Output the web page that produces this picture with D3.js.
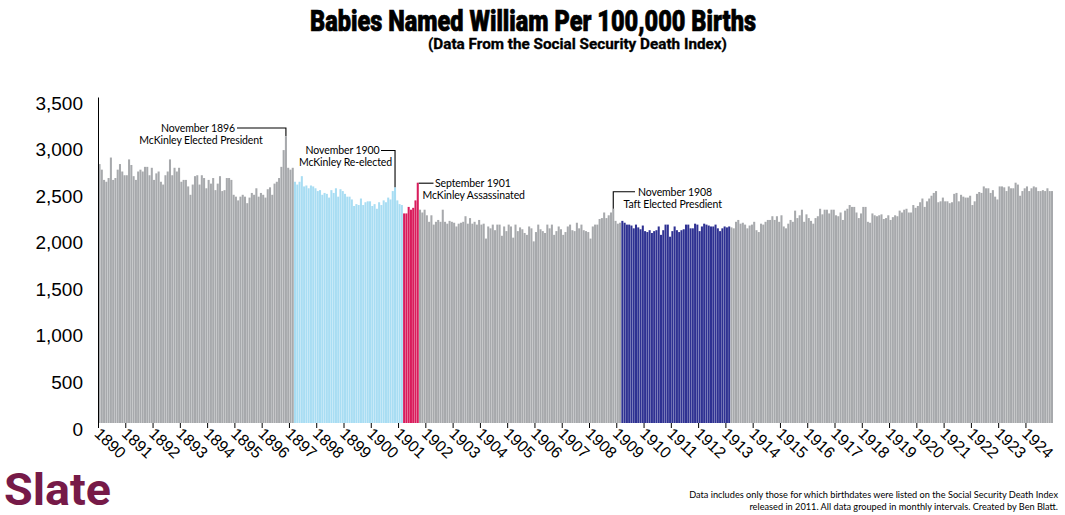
<!DOCTYPE html>
<html>
<head>
<meta charset="utf-8">
<script src="https://cdn.jsdelivr.net/npm/d3@7"></script>
<style>
body { margin: 0; background: #fff; }
svg { display: block; }
.axis text { font-family: "Liberation Sans", Arial, sans-serif; fill: #000; }
.note { font-family: Lato, "Open Sans", sans-serif; font-size: 10.5px; fill: #000; letter-spacing: -0.1px; }
</style>
</head>
<body>
<script>
//svg size
const c_width = 1065;
const c_height = 515;

//years shown on the x axis
const years = d3.range(1890, 1925);

//babies named William per 100,000 births, one row per year (Jan..Dec)
const births = [
  2780, 2720, 2610, 2590, 2630, 2850, 2610, 2630, 2720, 2780, 2700, 2660, // 1890
  2660, 2830, 2770, 2650, 2610, 2700, 2720, 2700, 2750, 2750, 2660, 2740, // 1891
  2610, 2680, 2700, 2590, 2560, 2660, 2700, 2830, 2660, 2740, 2700, 2740, // 1892
  2590, 2610, 2610, 2540, 2450, 2560, 2650, 2660, 2560, 2660, 2630, 2520, // 1893
  2610, 2570, 2630, 2500, 2570, 2650, 2490, 2500, 2630, 2630, 2610, 2450, // 1894
  2430, 2390, 2430, 2450, 2430, 2360, 2420, 2470, 2450, 2520, 2430, 2470, // 1895
  2450, 2420, 2510, 2530, 2450, 2570, 2590, 2630, 2750, 2930, 3080, 2740, // 1896
  2720, 2740, 2590, 2560, 2590, 2650, 2540, 2550, 2520, 2550, 2540, 2520, // 1897
  2490, 2500, 2450, 2470, 2460, 2420, 2500, 2470, 2520, 2430, 2510, 2490, // 1898
  2460, 2430, 2430, 2400, 2330, 2350, 2340, 2410, 2340, 2370, 2380, 2380, // 1899
  2330, 2350, 2300, 2370, 2340, 2390, 2370, 2420, 2400, 2490, 2530, 2390, // 1900
  2350, 2340, 2250, 2250, 2320, 2290, 2310, 2390, 2580, 2290, 2260, 2290, // 1901
  2230, 2160, 2230, 2130, 2160, 2180, 2160, 2290, 2160, 2140, 2170, 2160, // 1902
  2150, 2110, 2140, 2150, 2160, 2220, 2140, 2200, 2140, 2160, 2130, 2180, // 1903
  2130, 2140, 1980, 2110, 2090, 2130, 2070, 2130, 2130, 2010, 2110, 2060, // 1904
  2130, 2110, 1990, 2130, 2060, 2100, 2080, 2040, 2020, 2110, 2090, 1950, // 1905
  2050, 2130, 2080, 2060, 2040, 2130, 2090, 2130, 2020, 2060, 2110, 2080, // 1906
  2020, 2050, 2110, 2130, 2070, 2060, 2150, 2090, 2130, 2070, 2060, 2050, // 1907
  1980, 2110, 2130, 2130, 2190, 2200, 2260, 2200, 2230, 2260, 2300, 2170, // 1908
  2140, 2150, 2170, 2150, 2130, 2130, 2120, 2090, 2130, 2100, 2080, 2120, // 1909
  2060, 2050, 2070, 2040, 2060, 2070, 2110, 2020, 2070, 2130, 2130, 2000, // 1910
  2060, 2110, 2070, 2050, 2070, 2080, 2130, 2130, 2090, 2090, 2140, 2130, // 1911
  2060, 2110, 2140, 2130, 2120, 2110, 2110, 2130, 2090, 2060, 2090, 2110, // 1912
  2100, 2110, 2100, 2090, 2160, 2180, 2140, 2150, 2130, 2090, 2120, 2130, // 1913
  2160, 2070, 2050, 2140, 2130, 2160, 2180, 2180, 2220, 2180, 2220, 2160, // 1914
  2230, 2110, 2090, 2140, 2180, 2160, 2280, 2200, 2230, 2290, 2160, 2240, // 1915
  2200, 2170, 2140, 2200, 2220, 2300, 2240, 2290, 2290, 2250, 2290, 2290, // 1916
  2230, 2220, 2260, 2180, 2280, 2300, 2340, 2320, 2320, 2260, 2200, 2250, // 1917
  2320, 2320, 2160, 2150, 2250, 2230, 2220, 2230, 2240, 2190, 2200, 2230, // 1918
  2180, 2210, 2230, 2220, 2280, 2260, 2290, 2300, 2260, 2260, 2340, 2310, // 1919
  2330, 2370, 2410, 2320, 2380, 2410, 2440, 2470, 2490, 2370, 2380, 2420, // 1920
  2380, 2380, 2360, 2370, 2460, 2470, 2380, 2450, 2430, 2420, 2420, 2440, // 1921
  2340, 2380, 2460, 2480, 2470, 2540, 2520, 2520, 2470, 2500, 2430, 2400, // 1922
  2540, 2540, 2530, 2490, 2540, 2520, 2520, 2580, 2560, 2440, 2490, 2520, // 1923
  2540, 2490, 2520, 2540, 2530, 2490, 2490, 2500, 2490, 2520, 2490, 2490  // 1924
];

//highlighted stretches of months
const periods = [
  {name: 'mckinley1', from: '1897-03', to: '1901-02'},
  {name: 'mckinley2', from: '1901-03', to: '1901-09'},
  {name: 'taft',      from: '1909-03', to: '1913-02'}
];

//annotations
const notes = [
  {month: '1896-11', lines: ['November 1896', 'McKinley Elected President']},
  {month: '1900-11', lines: ['November 1900', 'McKinley Re-elected']},
  {month: '1901-09', lines: ['September 1901', 'McKinley Assassinated']},
  {month: '1908-11', lines: ['November 1908', 'Taft Elected Presdient']}
];

const yTicks = d3.range(0, 3501, 500);

//colors
const colors = {base: '#a7a9ac', mckinley1: '#a8ddf3', mckinley2: '#d91c5c', taft: '#2e3192'};

const fmt = d3.timeFormat('%Y-%m');
const months = d3.timeMonth.range(new Date(years[0], 0, 1), new Date(years[years.length - 1] + 1, 0, 1)).map(fmt);
const data = months.map((m, i) => ({month: m, value: births[i]}));

const periodOf = m => {
  const p = periods.find(p => m >= p.from && m <= p.to);
  return p ? p.name : 'base';
};

const svgContainer = d3.select('body')
  .append('svg')
  .attr('width', c_width)
  .attr('height', c_height);

//scales
const x = d3.scaleBand()
  .domain(months)
  .range([98.5, 1053])
  .paddingInner(0.1)
  .paddingOuter(0);

const y = d3.scaleLinear()
  .domain([0, 3500])
  .range([423, 97]);

//bars
svgContainer.append('g')
  .selectAll('rect')
  .data(data)
  .enter()
  .append('rect')
  .attr('x', d => x(d.month))
  .attr('width', x.bandwidth())
  .attr('y', d => y(d.value))
  .attr('height', d => y(0) - y(d.value))
  .attr('fill', d => colors[periodOf(d.month)]);

//y axis
const yAxis = svgContainer.append('g')
  .attr('class', 'axis')
  .attr('transform', 'translate(98,0)')
  .call(d3.axisLeft(y).tickValues(yTicks).tickFormat(d3.format(',')).tickSize(0).tickSizeOuter(0).tickPadding(15));
yAxis.select('.domain').attr('stroke', '#000');
yAxis.selectAll('text').style('font-size', '19px').attr('dy', '0.32em').attr('transform', 'translate(0,6)');

//x axis
const xAxis = svgContainer.append('g')
  .attr('class', 'axis')
  .attr('transform', 'translate(0,' + y(0) + ')')
  .call(d3.axisBottom(x)
    .tickValues(years.map(yr => yr + '-01'))
    .tickFormat(m => m.slice(0, 4))
    .tickSize(5)
    .tickSizeOuter(0));
xAxis.select('.domain').remove();
xAxis.selectAll('.tick line').attr('stroke', '#000').attr('transform', 'translate(' + (-x.bandwidth() / 2) + ',0)');
xAxis.selectAll('.tick text')
  .style('font-size', '16px')
  .style('text-anchor', 'start')
  .attr('x', 0).attr('y', 0).attr('dy', 0)
  .attr('transform', 'translate(-6,12) rotate(43)');

//annotations, layout of each label
const noteLayout = {
  '1896-11': {elbowY: 128, endX: 237, l1: {x: 235, y: 131.5, anchor: 'end'}, l2: {x: 201, y: 143.5, anchor: 'middle'}},
  '1900-11': {elbowY: 150.5, endX: 381, l1: {x: 379.5, y: 154, anchor: 'end'}, l2: {x: 345.5, y: 166, anchor: 'middle'}},
  '1901-09': {side: true, endX: 433.5, l1: {x: 435, y: 186.5, anchor: 'start'}, l2: {x: 422.5, y: 199, anchor: 'start'}},
  '1908-11': {elbowY: 191.7, endX: 635, l1: {x: 638, y: 196, anchor: 'start'}, l2: {x: 672.7, y: 207.7, anchor: 'middle'}}
};

const noteG = svgContainer.append('g');
notes.forEach(n => {
  const lay = noteLayout[n.month];
  const d = data.find(e => e.month === n.month);
  const bx = x(n.month) + x.bandwidth() / 2;
  const by = y(d.value);
  let path;
  if (lay.side) path = 'M' + (x(n.month) + x.bandwidth()) + ',' + (by + 0.5) + 'H' + lay.endX;
  else path = 'M' + bx + ',' + by + 'V' + lay.elbowY + 'H' + lay.endX;
  noteG.append('path')
    .attr('d', path)
    .attr('fill', 'none')
    .attr('stroke', '#000')
    .attr('stroke-width', 1.1);
  [lay.l1, lay.l2].forEach((p, i) => {
    noteG.append('text')
      .attr('class', 'note')
      .attr('x', p.x)
      .attr('y', p.y)
      .attr('text-anchor', p.anchor)
      .text(n.lines[i]);
  });
});

//title and subtitle
svgContainer.append('text')
  .attr('x', 310)
  .attr('y', 31)
  .attr('textLength', 446)
  .attr('lengthAdjust', 'spacingAndGlyphs')
  .style('font-family', 'Roboto, "Liberation Sans", sans-serif')
  .style('font-weight', 900)
  .style('font-size', '29px')
  .style('stroke', '#000')
  .style('stroke-width', 0.7)
  .text('Babies Named William Per 100,000 Births');

svgContainer.append('text')
  .attr('x', 428)
  .attr('y', 49)
  .attr('textLength', 299)
  .attr('lengthAdjust', 'spacingAndGlyphs')
  .style('font-family', 'Roboto, "Liberation Sans", sans-serif')
  .style('font-weight', 700)
  .style('font-size', '14px')
  .style('stroke', '#000')
  .style('stroke-width', 0.3)
  .text('(Data From the Social Security Death Index)');

//logo
svgContainer.append('text')
  .attr('x', 4)
  .attr('y', 505)
  .attr('textLength', 107)
  .attr('lengthAdjust', 'spacingAndGlyphs')
  .style('font-family', 'Roboto, "Liberation Sans", sans-serif')
  .style('font-weight', 700)
  .style('font-size', '45px')
  .style('fill', '#761a48')
  .text('Slate');

//footnote
const foot = ['Data includes only those for which birthdates were listed on the Social Security Death Index',
              'released in 2011. All data grouped in monthly intervals. Created by Ben Blatt.'];
svgContainer.append('g')
  .selectAll('text')
  .data(foot)
  .enter()
  .append('text')
  .attr('x', 1058)
  .attr('y', (d, i) => 498 + i * 11.5)
  .attr('text-anchor', 'end')
  .style('font-family', 'Lato, "Open Sans", sans-serif')
  .style('font-size', '9.2px')
  .text(d => d);
</script>
</body>
</html>
